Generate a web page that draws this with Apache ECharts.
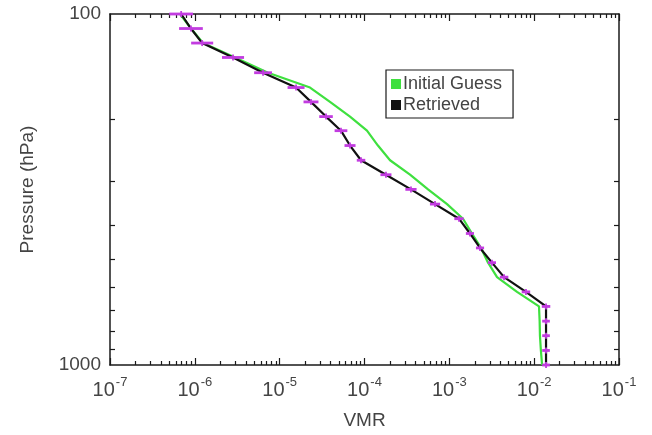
<!DOCTYPE html>
<html>
<head>
<meta charset="utf-8">
<script src="https://cdn.jsdelivr.net/npm/echarts@6/dist/echarts.min.js"></script>
<style>
  html, body { margin: 0; padding: 0; background: #ffffff; }
  #chart { width: 652px; height: 435px; }
</style>
</head>
<body>
<div id="chart"></div>
<script>
// Pressure levels of the profile (hPa), top of the column first
const pressureLevels = [100, 110, 121, 133, 147, 162, 178, 196, 215, 237, 261, 287, 316,
                        348, 383, 422, 464, 511, 562, 619, 681, 750, 825, 909, 1000];

// A priori (initial guess) volume mixing ratio at each level
const initialGuess = [6.7e-7, 9.0e-7, 1.25e-6, 2.98e-6, 7.3e-6, 2.28e-5, 3.92e-5, 6.75e-5,
                      1.07e-4, 1.44e-4, 2.0e-4, 3.44e-4, 5.61e-4, 9.4e-4, 1.45e-3, 1.85e-3,
                      2.36e-3, 2.86e-3, 3.65e-3, 6.28e-3, 1.14e-2, 1.16e-2, 1.17e-2, 1.2e-2, 1.24e-2];

// Retrieved volume mixing ratio at each level
const retrieved = [6.9e-7, 9.0e-7, 1.22e-6, 2.82e-6, 6.37e-6, 1.56e-5, 2.34e-5, 3.52e-5,
                   5.28e-5, 6.75e-5, 9.1e-5, 1.79e-4, 3.53e-4, 6.78e-4, 1.30e-3, 1.75e-3,
                   2.30e-3, 3.18e-3, 4.42e-3, 8.0e-3, 1.38e-2, 1.38e-2, 1.38e-2, 1.38e-2, 1.38e-2];

// Retrieval uncertainty, as a half-width in decades of VMR
const retrievedErrDex = [0.14, 0.14, 0.13, 0.13, 0.105, 0.10, 0.088, 0.08, 0.075, 0.065,
                         0.05, 0.065, 0.066, 0.06, 0.055, 0.048, 0.048, 0.048, 0.05, 0.05,
                         0.05, 0.045, 0.045, 0.045, 0.045];

// Axis ticks
const xDecades = [1e-7, 1e-6, 1e-5, 1e-4, 1e-3, 1e-2, 1e-1];
const xMantissas = [2, 3, 4, 5, 6, 7, 8, 9];
const yLabels = [100, 1000];
const yMinorTicks = [200, 300, 400, 500, 600, 700, 800, 900];

const xMinorTicks = [];
xDecades.slice(0, -1).forEach(d => xMantissas.forEach(m => xMinorTicks.push(m * d)));

const AXIS_COLOR = '#1a1a1a';
const TEXT_COLOR = '#444444';
const FONT = '"Liberation Sans", "DejaVu Sans", sans-serif';
const ERR_COLOR = '#c23ce0';

const chart = echarts.init(document.getElementById('chart'), null, { renderer: 'canvas' });

const grid = { left: 110, top: 14, width: 509, height: 359, containLabel: false };

function xAxisDef(position, ticks, tickLen, withLabels, withLine) {
  const axis = {
    type: 'log', logBase: 10, min: 1e-7, max: 1e-1, position: position,
    gridIndex: 0,
    axisLine: { show: withLine, lineStyle: { color: AXIS_COLOR, width: 1.5 } },
    axisTick: { show: true, inside: true, length: tickLen, customValues: ticks,
                lineStyle: { color: AXIS_COLOR, width: 1.2 } },
    axisLabel: { show: false },
    splitLine: { show: false },
    minorTick: { show: false }
  };
  if (withLabels) {
    axis.axisLabel = {
      show: true, customValues: xDecades, margin: 11,
      formatter: v => '{b|10}{s|-' + Math.round(-Math.log10(v)) + '}',
      rich: {
        b: { fontSize: 20, color: TEXT_COLOR, fontFamily: FONT, verticalAlign: 'bottom' },
        s: { fontSize: 13, color: TEXT_COLOR, fontFamily: FONT, verticalAlign: 'bottom', padding: [0, 0, 11, 1] }
      }
    };
    axis.name = 'VMR';
    axis.nameLocation = 'middle';
    axis.nameGap = 46;
    axis.nameTextStyle = { fontSize: 19, color: TEXT_COLOR, fontFamily: FONT };
  }
  return axis;
}

function yAxisDef(position, withLabels) {
  const axis = {
    type: 'log', logBase: 10, min: 100, max: 1000, inverse: true, position: position,
    gridIndex: 0,
    axisLine: { show: true, lineStyle: { color: AXIS_COLOR, width: 1.5 } },
    axisTick: { show: true, inside: true, length: 5, customValues: yMinorTicks,
                lineStyle: { color: AXIS_COLOR, width: 1.2 } },
    axisLabel: { show: false },
    splitLine: { show: false },
    minorTick: { show: false }
  };
  if (withLabels) {
    axis.axisLabel = {
      show: true, customValues: yLabels, margin: 9,
      formatter: v => String(Math.round(v)),
      fontSize: 19, color: TEXT_COLOR, fontFamily: FONT
    };
    axis.name = 'Pressure (hPa)';
    axis.nameLocation = 'middle';
    axis.nameGap = 73;
    axis.nameRotate = 90;
    axis.nameTextStyle = { fontSize: 19, color: TEXT_COLOR, fontFamily: FONT };
  }
  return axis;
}

const errorBarData = retrieved.map((v, i) => [
  v * Math.pow(10, -retrievedErrDex[i]),
  v * Math.pow(10, retrievedErrDex[i]),
  pressureLevels[i],
  v
]);

chart.setOption({
  animation: false,
  backgroundColor: '#ffffff',
  grid: grid,
  xAxis: [
    xAxisDef('bottom', xDecades, 7, true, true),
    xAxisDef('bottom', xMinorTicks, 4, false, false),
    xAxisDef('top', xDecades, 7, false, true),
    xAxisDef('top', xMinorTicks, 4, false, false)
  ],
  yAxis: [
    yAxisDef('left', true),
    yAxisDef('right', false)
  ],
  legend: {
    orient: 'vertical',
    left: 386, top: 70,
    data: [
      { name: 'Initial Guess', icon: 'rect', itemStyle: { color: '#3fe03f' } },
      { name: 'Retrieved', icon: 'rect', itemStyle: { color: '#111111' } }
    ],
    itemWidth: 10, itemHeight: 10, itemGap: 3,
    padding: [5, 11, 4, 5],
    borderColor: AXIS_COLOR, borderWidth: 1.2,
    backgroundColor: '#ffffff',
    textStyle: { fontSize: 18, color: TEXT_COLOR, fontFamily: FONT, padding: [0, 0, 0, -3] }
  },
  series: [
    {
      name: 'Initial Guess', type: 'line', xAxisIndex: 0, yAxisIndex: 0,
      data: pressureLevels.map((p, i) => [initialGuess[i], p]),
      showSymbol: false, symbol: 'none',
      lineStyle: { color: '#3fe03f', width: 2.2 },
      itemStyle: { color: '#3fe03f' }, z: 2
    },
    {
      name: 'Retrieved', type: 'line', xAxisIndex: 0, yAxisIndex: 0,
      data: pressureLevels.map((p, i) => [retrieved[i], p]),
      showSymbol: false, symbol: 'none',
      lineStyle: { color: '#111111', width: 2.2 },
      itemStyle: { color: '#111111' }, z: 3
    },
    {
      name: 'Error', type: 'custom', xAxisIndex: 0, yAxisIndex: 0,
      data: errorBarData,
      encode: { x: [0, 1, 3], y: 2 },
      clip: false, z: 4,
      renderItem: function (params, api) {
        const lo = api.coord([api.value(0), api.value(2)]);
        const hi = api.coord([api.value(1), api.value(2)]);
        const c = api.coord([api.value(3), api.value(2)]);
        return {
          type: 'group',
          children: [
            { type: 'line', shape: { x1: lo[0], y1: lo[1], x2: hi[0], y2: hi[1] },
              style: { stroke: ERR_COLOR, lineWidth: 2.8 } },
            { type: 'line', shape: { x1: c[0], y1: c[1] - 3, x2: c[0], y2: c[1] + 3 },
              style: { stroke: ERR_COLOR, lineWidth: 1.8 } }
          ]
        };
      }
    }
  ]
});
</script>
</body>
</html>
